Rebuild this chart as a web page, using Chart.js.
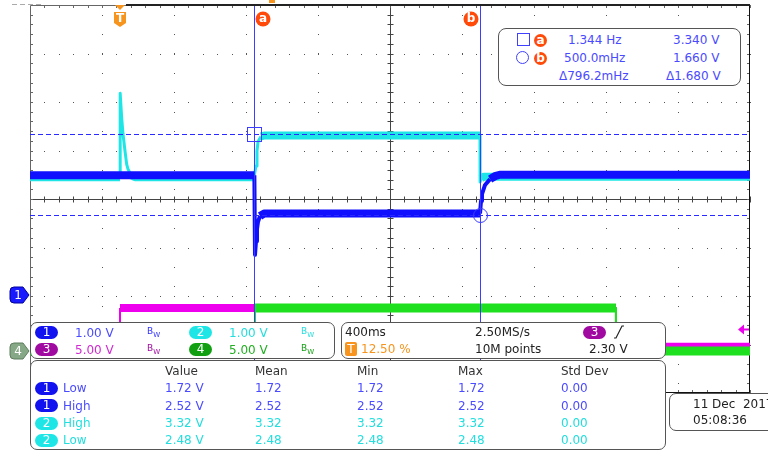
<!DOCTYPE html>
<html>
<head>
<meta charset="utf-8">
<script src="https://cdn.jsdelivr.net/npm/chart.js@4.4.0/dist/chart.umd.min.js"></script>
<style>
  html, body { margin: 0; padding: 0; background: #fff; overflow: hidden; }
  #wrap { position: relative; width: 768px; height: 451px; overflow: hidden;
          font-family: 'DejaVu Sans', sans-serif; font-size: 12px; }
  canvas { position: absolute; left: 0; top: 0; }
  .panel { position: absolute; background: #fff; border: 1px solid #555; border-radius: 7px; box-sizing: border-box; }
  .t { position: absolute; white-space: pre; line-height: 14px; }
  .pill { position: absolute; width: 23px; height: 13px; border-radius: 7px; color: #fff;
          text-align: center; line-height: 13px; font-size: 12px; }
  .bw { position: absolute; font-size: 9px; line-height: 10px; }
  .bw sub { font-size: 7px; vertical-align: -3px; }
</style>
</head>
<body>
<div id="wrap">
  <canvas id="scope" width="768" height="451"></canvas>
</div>
<script>
// ---- acquisition: 400 ms/div, trigger at t = 0 (12.5 % of record) ----
const timeRange = [-0.5, 3.5];       // s
const ch12Range = [-2, 6];           // 1 V/div, ground 2 div above bottom
const ch34Range = [-4.33, 35.67];    // 5 V/div

// channel traces (s, V)
const ch1Time = [-0.5, 0.7465, 0.750, 0.7556, 0.7611, 0.7667, 0.7778, 0.80, 2.0, 2.0056, 2.011, 2.028, 2.056, 2.083, 2.11, 3.5];
const ch1Volt = [2.49, 2.49, 0.85, 1.13, 1.38, 1.53, 1.65, 1.70, 1.70, 1.96, 2.10, 2.29, 2.41, 2.47, 2.50, 2.50];

const ch2Time = [-0.5, 0, 0.001, 0.0094, 0.0167, 0.0278, 0.037, 0.044, 0.061, 0.083, 0.744, 0.7556, 0.7611, 0.7667, 0.783, 0.806, 2.0, 2.0006, 2.006, 2.02, 3.5];
const ch2Volt = [2.45, 2.45, 4.18, 3.67, 3.34, 2.99, 2.72, 2.62, 2.49, 2.45, 2.45, 2.68, 2.99, 3.18, 3.29, 3.31, 3.31, 2.35, 2.42, 2.46, 2.46];

const ch3Time = [-0.5, -0.0005, 0, 2.755, 2.7555, 3.5];
const ch3Volt = [0, 0, 4.43, 4.43, 0.45, 0.45];

const ch4Time = [-0.5, 0.7495, 0.75, 2.755, 2.7555, 3.5];
const ch4Volt = [0, 0, 4.43, 4.43, 0, 0];

// cursors
const cursorTimes = [0.744, 2.0];
const cursorVolts = [3.34, 1.66];
const cursorFreqText = ['1.344 Hz', '500.0mHz', 'Δ796.2mHz'];
const cursorVoltText = ['3.340 V', '1.660 V', 'Δ1.680 V'];
const trigLevel = 2.30;

// channel settings
const chScaleText = ['1.00 V', '1.00 V', '5.00 V', '5.00 V'];

// measurements
const measChannel = [1, 1, 2, 2];
const measName = ['Low', 'High', 'High', 'Low'];
const measValue = [1.72, 2.52, 3.32, 2.48];
const measMean = [1.72, 2.52, 3.32, 2.48];
const measMin = [1.72, 2.52, 3.32, 2.48];
const measMax = [1.72, 2.52, 3.32, 2.48];
const measStd = [0.00, 0.00, 0.00, 0.00];

const COL = {
  ch1: '#1010ff', ch2: '#1ee6e6', ch3: '#ee00ee', ch4: '#1fe01f',
  ch1Text: '#4b4bff', ch2Text: '#22dede', ch3Text: '#d22ad2', ch4Text: '#22b022',
  ch3Pill: '#a00aa0', ch4Pill: '#12a012', ch1Pill: '#1212f0',
  cursor: '#3d3dff', orange: '#f7941d', mark: '#ff4a0a'
};

const pts = (ts, vs) => ts.map((t, i) => ({ x: t, y: vs[i] }));
// thick band for the noisy flat parts, thinner for fast edges
const bandWidth = (w, thin) => c =>
  Math.abs(c.p1.y - c.p0.y) > Math.abs(c.p1.x - c.p0.x) ? thin : w;

function trace(label, ts, vs, color, axis, w, thin) {
  return {
    label, data: pts(ts, vs), yAxisID: axis,
    borderColor: color, borderWidth: w, pointRadius: 0,
    borderCapStyle: 'butt', borderJoinStyle: 'round',
    tension: 0, clip: 0,
    segment: { borderWidth: bandWidth(w, thin) }
  };
}

const graticule = {
  id: 'graticule',
  beforeDatasetsDraw(chart) {
    const { ctx, chartArea: a } = chart;
    const dx = (a.right - a.left) / 10, dy = (a.bottom - a.top) / 8;
    ctx.save();
    ctx.fillStyle = '#555';
    for (let i = 1; i < 10; i++) {
      const px = Math.round(a.left + i * dx);
      for (let yy = a.top + dy / 5; yy < a.bottom; yy += 2 * dy / 5) ctx.fillRect(px, Math.round(yy), 1, 1);
    }
    for (let j = 1; j < 8; j++) {
      const py = Math.round(a.top + j * dy);
      for (let xx = a.left + dx / 5; xx < a.right; xx += dx / 5) ctx.fillRect(Math.round(xx), py, 1, 1);
    }
    // centre cross with sub-division ticks
    const cx = Math.round(a.left + 5 * dx) + 0.5, cy = Math.round(a.top + 4 * dy) + 0.5;
    ctx.strokeStyle = '#444';
    ctx.lineWidth = 1;
    ctx.beginPath();
    ctx.moveTo(cx, a.top); ctx.lineTo(cx, a.bottom);
    ctx.moveTo(a.left, cy); ctx.lineTo(a.right, cy);
    for (let yy = a.top + dy / 5; yy < a.bottom; yy += dy / 5) {
      const r = Math.round(yy) + 0.5;
      ctx.moveTo(cx - 3, r); ctx.lineTo(cx + 3, r);
    }
    for (let xx = a.left + dx / 5; xx < a.right; xx += dx / 5) {
      const r = Math.round(xx) + 0.5;
      ctx.moveTo(r, cy - 3); ctx.lineTo(r, cy + 3);
    }
    ctx.stroke();
    // frame with inward ticks
    ctx.strokeStyle = '#666';
    ctx.beginPath();
    ctx.rect(a.left + 0.5, a.top + 0.5, a.right - a.left - 1, a.bottom - a.top - 1);
    for (let yy = a.top + dy / 5; yy < a.bottom; yy += dy / 5) {
      const r = Math.round(yy) + 0.5;
      ctx.moveTo(a.left, r); ctx.lineTo(a.left + 3, r);
      ctx.moveTo(a.right - 3, r); ctx.lineTo(a.right, r);
    }
    for (let xx = a.left + dx / 5; xx < a.right; xx += dx / 5) {
      const r = Math.round(xx) + 0.5;
      ctx.moveTo(r, a.top); ctx.lineTo(r, a.top + 3);
      ctx.moveTo(r, a.bottom - 3); ctx.lineTo(r, a.bottom);
    }
    ctx.stroke();
    ctx.strokeStyle = '#111';
    ctx.beginPath();
    ctx.moveTo(a.right - 0.5, a.top); ctx.lineTo(a.right - 0.5, a.bottom);
    ctx.moveTo(a.left, a.bottom - 0.5); ctx.lineTo(a.right, a.bottom - 0.5);
    ctx.stroke();
    ctx.restore();
  }
};

function tag(ctx, y, fill, edge, text) {
  ctx.save();
  ctx.beginPath();
  ctx.moveTo(14, y - 8);
  ctx.lineTo(23, y - 8);
  ctx.lineTo(29, y);
  ctx.lineTo(23, y + 8);
  ctx.lineTo(14, y + 8);
  ctx.quadraticCurveTo(10, y + 8, 10, y + 4);
  ctx.lineTo(10, y - 4);
  ctx.quadraticCurveTo(10, y - 8, 14, y - 8);
  ctx.fillStyle = fill;
  ctx.fill();
  ctx.strokeStyle = edge;
  ctx.lineWidth = 1;
  ctx.stroke();
  ctx.fillStyle = '#fff';
  ctx.font = '12px "DejaVu Sans"';
  ctx.textAlign = 'center';
  ctx.textBaseline = 'middle';
  ctx.fillText(text, 18, y + 1);
  ctx.restore();
}

function letter(ctx, x, y, r, ch) {
  ctx.beginPath();
  ctx.arc(x, y, r, 0, Math.PI * 2);
  ctx.fillStyle = COL.mark;
  ctx.fill();
  ctx.fillStyle = '#fff';
  ctx.font = 'bold 12px "DejaVu Sans"';
  ctx.textAlign = 'center';
  ctx.textBaseline = 'middle';
  ctx.fillText(ch, x, y);
}

const overlay = {
  id: 'overlay',
  afterDatasetsDraw(chart) {
    const { ctx, chartArea: a, scales } = chart;
    const x = scales.x, y12 = scales.y12, y34 = scales.y34;
    const xa = Math.round(x.getPixelForValue(cursorTimes[0])) + 0.5;
    const xb = Math.round(x.getPixelForValue(cursorTimes[1])) + 0.5;
    const ya = Math.round(y12.getPixelForValue(cursorVolts[0])) + 0.5;
    const yb = Math.round(y12.getPixelForValue(cursorVolts[1])) + 0.5;
    ctx.save();
    ctx.strokeStyle = COL.cursor;
    ctx.lineWidth = 1;
    ctx.beginPath();
    ctx.moveTo(xa, a.top); ctx.lineTo(xa, a.bottom);
    ctx.moveTo(xb, a.top); ctx.lineTo(xb, a.bottom);
    ctx.stroke();
    ctx.strokeStyle = '#2a2aff';
    ctx.setLineDash([5, 3]);
    ctx.beginPath();
    ctx.moveTo(a.left, ya); ctx.lineTo(a.right, ya);
    ctx.moveTo(a.left, yb); ctx.lineTo(a.right, yb);
    ctx.stroke();
    ctx.setLineDash([]);
    ctx.strokeStyle = COL.cursor;
    ctx.strokeRect(xa - 7, ya - 7, 14, 14);
    ctx.beginPath();
    ctx.arc(xb, yb, 7, 0, Math.PI * 2);
    ctx.stroke();

    // cursor letters
    letter(ctx, xa + 8.5, 19, 7.5, 'a');
    letter(ctx, xb - 9.5, 19, 7.5, 'b');

    // top bar and markers
    ctx.fillStyle = '#222';
    ctx.fillRect(126, a.top - 1, a.right - 126, 2);
    ctx.fillStyle = '#aaa';
    for (let xx = 12; xx < 40; xx += 8) ctx.fillRect(xx, 4, 5, 1);
    ctx.fillStyle = COL.orange;
    ctx.fillRect(269, 0, 6, 3);

    // trigger position marker
    const xt = x.getPixelForValue(0);
    ctx.beginPath();
    ctx.moveTo(xt - 5, a.top); ctx.lineTo(xt + 5, a.top); ctx.lineTo(xt, a.top + 5);
    ctx.closePath();
    ctx.fill();
    ctx.beginPath();
    ctx.moveTo(xt - 6, 12); ctx.lineTo(xt + 6, 12); ctx.lineTo(xt + 6, 23);
    ctx.lineTo(xt, 27); ctx.lineTo(xt - 6, 23);
    ctx.closePath();
    ctx.fill();
    ctx.fillStyle = '#fff';
    ctx.font = 'bold 12px "DejaVu Sans"';
    ctx.textAlign = 'center';
    ctx.textBaseline = 'middle';
    ctx.fillText('T', xt, 19);

    // ground tags
    tag(ctx, Math.round(y12.getPixelForValue(0)) - 1, '#1a1aff', '#0000a0', '1');
    tag(ctx, Math.round(y34.getPixelForValue(0)), '#86a886', '#5d7d5d', '4');

    // trigger level arrow
    const yl = Math.round(y34.getPixelForValue(trigLevel)) + 0.5;
    ctx.strokeStyle = COL.ch3;
    ctx.fillStyle = COL.ch3;
    ctx.lineWidth = 2;
    ctx.beginPath();
    ctx.moveTo(a.right - 8, yl); ctx.lineTo(a.right - 1, yl);
    ctx.stroke();
    ctx.beginPath();
    ctx.moveTo(a.right - 12, yl); ctx.lineTo(a.right - 6, yl - 5); ctx.lineTo(a.right - 6, yl + 5);
    ctx.closePath();
    ctx.fill();
    ctx.restore();
  }
};

new Chart(document.getElementById('scope'), {
  type: 'line',
  data: {
    datasets: [
      trace('CH1', ch1Time, ch1Volt, COL.ch1, 'y12', 8, 4),
      trace('CH2', ch2Time, ch2Volt, COL.ch2, 'y12', 8, 3),
      trace('CH4', ch4Time, ch4Volt, COL.ch4, 'y34', 9, 2),
      trace('CH3', ch3Time, ch3Volt, COL.ch3, 'y34', 8, 2)
    ]
  },
  options: {
    responsive: false,
    devicePixelRatio: 1,
    animation: false,
    layout: { padding: { left: 30, top: 5, right: 18, bottom: 58 } },
    scales: {
      x: { type: 'linear', min: timeRange[0], max: timeRange[1], display: false },
      y12: { type: 'linear', min: ch12Range[0], max: ch12Range[1], display: false },
      y34: { type: 'linear', min: ch34Range[0], max: ch34Range[1], display: false }
    },
    plugins: { legend: { display: false }, tooltip: { enabled: false } }
  },
  plugins: [graticule, overlay]
});

// ---- on-screen panels (HTML text) ----
const wrap = document.getElementById('wrap');
function el(cls, x, y, html, style) {
  const d = document.createElement('div');
  d.className = cls;
  d.style.left = x + 'px';
  d.style.top = y + 'px';
  if (style) Object.assign(d.style, style);
  d.innerHTML = html;
  wrap.appendChild(d);
  return d;
}
function box(x, y, w, h, r) {
  return el('panel', x, y, '', { width: w + 'px', height: h + 'px', borderRadius: (r || 7) + 'px' });
}
const txt = (x, cy, s, color) => el('t', x, cy - 7, s, { color: color || '#222' });
const pill = (x, cy, s, bg) => el('pill', x, cy - 6.5, s, { background: bg });
const bw = (x, cy, color) => el('bw', x, cy - 7, 'B<sub>W</sub>', { color });

// cursor readout
box(498, 28, 243, 58, 8);
el('t', 517, 33, '', { width: '11px', height: '11px', border: '1.5px solid #4040ff' });
el('t', 516, 51, '', { width: '11px', height: '11px', border: '1.5px solid #4040ff', borderRadius: '50%' });
el('pill', 534, 33.5, '<b>a</b>', { width: '13px', height: '13px', background: COL.mark, borderRadius: '50%', lineHeight: '12px' });
el('pill', 534, 51.5, '<b>b</b>', { width: '13px', height: '13px', background: COL.mark, borderRadius: '50%', lineHeight: '12px' });
const freqX = [568, 564, 559], voltX = [673, 673, 666], rowY = [40, 58, 76];
rowY.forEach((cy, i) => {
  txt(freqX[i], cy, cursorFreqText[i], '#4a4aff');
  txt(voltX[i], cy, cursorVoltText[i], '#4a4aff');
});

// vertical settings
box(30, 322, 305, 37);
const chPill = [COL.ch1Pill, COL.ch2, COL.ch3Pill, COL.ch4Pill];
const chText = [COL.ch1Text, COL.ch2Text, COL.ch3Text, COL.ch4Text];
const bwCol = ['#3030ff', COL.ch2Text, COL.ch3Pill, COL.ch4Pill];
chScaleText.forEach((s, i) => {
  const ox = (i % 2) * 154, cy = i < 2 ? 332.5 : 349.5;
  pill(35 + ox, cy, String(i + 1), chPill[i]);
  txt(75 + ox, cy, s, chText[i]);
  bw(147 + ox, cy, bwCol[i]);
});

// horizontal / trigger
box(341, 322, 325, 37);
txt(345, 332, '400ms');
txt(475, 332, '2.50MS/s');
pill(583, 332.5, '3', COL.ch3Pill);
el('t', 613, 325, '<svg width="12" height="14"><polyline points="1,13 3,13 9,1 11,1" fill="none" stroke="#222" stroke-width="1.2"/></svg>');
el('pill', 345, 342, 'T', { width: '12px', height: '14px', borderRadius: '2px', background: COL.orange, lineHeight: '14px' });
txt(361, 349, '12.50 %', COL.orange);
txt(475, 349, '10M points');
txt(589, 349, '2.30 V');

// measurements
box(30, 360, 636, 90);
const colX = [165, 255, 357, 458, 561];
['Value', 'Mean', 'Min', 'Max', 'Std Dev'].forEach((h, i) => txt(colX[i], 371, h, '#333'));
const measRowY = [388, 405.5, 423, 440];
measName.forEach((name, i) => {
  const cy = measRowY[i];
  const c = measChannel[i] === 1 ? COL.ch1Text : COL.ch2Text;
  pill(35, cy, String(measChannel[i]), measChannel[i] === 1 ? COL.ch1Pill : COL.ch2);
  txt(63, cy, name, c);
  txt(colX[0], cy, measValue[i].toFixed(2) + ' V', c);
  txt(colX[1], cy, measMean[i].toFixed(2), c);
  txt(colX[2], cy, measMin[i].toFixed(2), c);
  txt(colX[3], cy, measMax[i].toFixed(2), c);
  txt(colX[4], cy, measStd[i].toFixed(2), c);
});

// date / time
box(669, 393, 130, 38);
txt(693, 404, '11 Dec  2017');
txt(693, 420, '05:08:36');
</script>
</body>
</html>
